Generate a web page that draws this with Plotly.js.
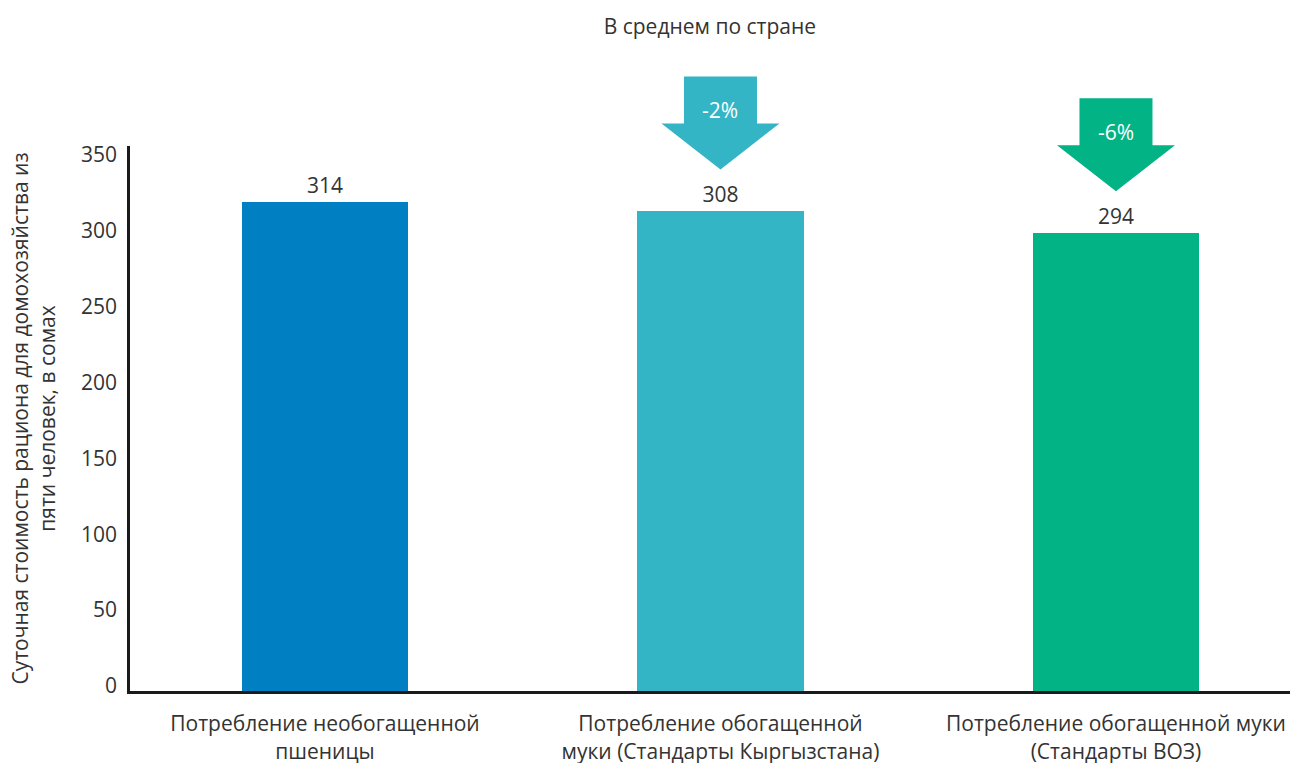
<!DOCTYPE html>
<html>
<head>
<meta charset="utf-8">
<script src="https://cdn.plot.ly/plotly-3.0.1.min.js"></script>
<style>html,body{margin:0;padding:0;background:#fff;}#chart{width:1293px;height:763px;}</style>
</head>
<body>
<div id="chart"></div>
<script>
const categories = [
  "Потребление необогащенной<br>пшеницы",
  "Потребление обогащенной<br>муки (Стандарты Кыргызстана)",
  "Потребление обогащенной муки<br>(Стандарты ВОЗ)"
];
const values = [314, 308, 294];
const changes = [null, "-2%", "-6%"];
const barColors = ["#007FC3", "#34B5C6", "#02B386"];
const yTicks = [0, 50, 100, 150, 200, 250, 300, 350];

const xIdx = categories.map((c, i) => i);
const font = "'Open Sans', sans-serif";
const txt = "#333333";

// layout geometry
const H = 763, mT = 60, mB = 72;
const plotH = H - mT - mB;          // full plotting height
const mainH = 545;                  // height of the value axis
const mainFrac = mainH / plotH;
const yMax = 350;

const shapes = [];
const annotations = [];
changes.forEach((ch, i) => {
  if (!ch) return;
  const col = barColors[i];
  shapes.push({
    type: "path",
    xref: "x", yref: "y2",
    xsizemode: "pixel", ysizemode: "pixel",
    xanchor: xIdx[i], yanchor: values[i],
    path: "M -36.5 135 L 36.5 135 L 36.5 88 L 59 88 L 0 42 L -59 88 L -36.5 88 Z",
    fillcolor: col, line: {width: 0}
  });
  annotations.push({
    x: xIdx[i], y: values[i], xref: "x", yref: "y",
    text: ch, showarrow: false, yshift: 101,
    font: {family: font, size: 21, color: "#ffffff"}
  });
});

const bars = {
  type: "bar",
  x: xIdx,
  y: values,
  width: 0.42,
  marker: {color: barColors},
  text: values.map(String),
  textposition: "outside",
  cliponaxis: false,
  textfont: {family: font, size: 21, color: txt},
  hoverinfo: "skip"
};
const helper2 = {type: "scatter", x: [], y: [], xaxis: "x", yaxis: "y2", hoverinfo: "skip"};
const helper3 = {type: "scatter", x: [], y: [], xaxis: "x", yaxis: "y3", hoverinfo: "skip"};

const layout = {
  width: 1293, height: H,
  margin: {l: 130, r: 3, t: mT, b: mB},
  paper_bgcolor: "#fff", plot_bgcolor: "rgba(0,0,0,0)",
  font: {family: font, size: 21, color: txt},
  title: {text: "В среднем по стране", x: 0.549, xanchor: "center", y: 0.965, yanchor: "middle",
          font: {family: font, size: 21, color: txt}},
  showlegend: false,
  bargap: 0,
  xaxis: {
    range: [-0.493, 2.44],
    tickmode: "array", tickvals: xIdx, ticktext: categories,
    showline: true, linecolor: "#1a1a1a", linewidth: 3,
    showgrid: false, zeroline: false, ticks: "",
    ticklabelstandoff: 12,
    tickfont: {family: font, size: 21, color: txt},
    fixedrange: true
  },
  yaxis: {
    domain: [0, mainFrac],
    range: [0, yMax],
    showticklabels: false,
    showline: true, linecolor: "#1a1a1a", linewidth: 3,
    showgrid: false, zeroline: false, ticks: "",
    title: {text: "Суточная стоимость рациона для домохозяйства из<br>пяти человек, в сомах",
            standoff: 66, font: {family: font, size: 21, color: txt}},
    fixedrange: true
  },
  yaxis2: {
    domain: [0, 1], anchor: "x",
    range: [0, yMax / mainFrac],
    visible: false, fixedrange: true
  },
  yaxis3: {
    overlaying: "y", side: "left", anchor: "x",
    range: [-3.3, 355.9],
    tickmode: "array", tickvals: yTicks, ticktext: yTicks.map(String),
    showline: false, showgrid: false, zeroline: false, ticks: "",
    ticklabelstandoff: 12,
    tickfont: {family: font, size: 21, color: txt},
    fixedrange: true
  },
  shapes: shapes,
  annotations: annotations
};

Plotly.newPlot("chart", [bars, helper2, helper3], layout, {displayModeBar: false, staticPlot: true});
</script>
</body>
</html>
